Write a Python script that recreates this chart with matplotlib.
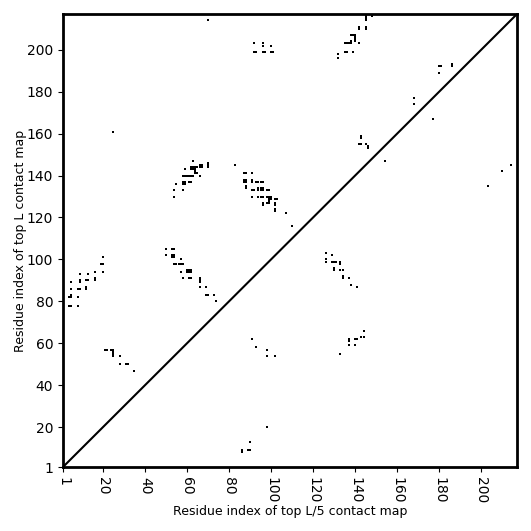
import matplotlib
matplotlib.use("Agg")
import matplotlib.pyplot as plt

L = 217

# contacts above the diagonal (top L map)
upper_x = [4, 5, 8, 4, 5, 8, 5, 5, 8, 9, 12, 12, 5, 9, 9, 12, 13, 9, 13, 16, 16, 16, 20, 19, 20, 20,
           21, 22, 24, 25, 25, 25, 25, 28, 28, 31, 32, 35,
           25, 70, 83,
           63, 59, 62, 63, 64, 65, 62, 63, 64, 66, 67, 66, 67, 70, 70, 70,
           58, 59, 60, 61, 62, 63, 64, 65, 64, 66,
           55, 58, 59, 58, 59, 61, 62, 54, 58, 54,
           50, 53, 54, 50, 53, 54, 53, 54, 54, 55, 56, 57, 58, 57,
           57, 60, 61, 62, 60, 61, 62, 58, 61, 62, 66, 66, 66, 66, 69, 69, 70, 73, 74,
           87, 88, 91, 87, 88, 87, 88, 91, 91, 93, 94, 95, 96,
           88, 88, 91, 92, 94, 95, 96, 94, 95, 96, 98, 99,
           91, 94, 95, 96, 98, 99, 100, 99, 100, 99, 99, 96, 96, 98,
           102, 103, 102, 102, 102, 102, 107, 110,
           92, 92, 93, 96, 96, 96, 97, 100, 100, 101,
           132, 132, 135, 136, 135, 136, 137, 138, 138, 139, 138, 139, 140, 140, 140, 140,
           142, 142, 142, 145, 145, 145, 145, 145, 148,
           143, 143, 142, 143, 145, 146, 146, 168, 168, 180, 181, 180, 186, 186]
upper_y = [78, 78, 78, 82, 82, 82, 83, 86, 86, 86, 86, 87, 89, 89, 90, 90, 90, 93, 93, 90, 91, 94, 94, 98, 98, 101,
           57, 57, 57, 54, 55, 56, 57, 54, 50, 50, 50, 47,
           161, 214, 145,
           147, 143, 143, 143, 143, 144, 144, 144, 144, 144, 144, 145, 145, 144, 145, 146,
           140, 140, 140, 140, 140, 140, 141, 141, 142, 140,
           136, 136, 136, 137, 137, 137, 137, 133, 133, 130,
           105, 105, 105, 102, 102, 102, 101, 101, 98, 98, 98, 98, 98, 100,
           94, 94, 94, 94, 95, 95, 95, 91, 91, 91, 89, 90, 91, 87, 87, 83, 83, 83, 80,
           141, 141, 141, 137, 137, 138, 138, 137, 138, 137, 137, 137, 137,
           134, 135, 133, 133, 133, 133, 133, 134, 134, 134, 133, 133,
           130, 130, 130, 130, 130, 130, 130, 129, 129, 127, 128, 126, 127, 127,
           129, 129, 126, 127, 123, 124, 122, 116,
           203, 199, 199, 202, 203, 199, 199, 202, 199, 199,
           198, 196, 199, 199, 203, 203, 203, 203, 204, 199, 207, 207, 207, 204, 205, 206,
           203, 210, 211, 210, 211, 214, 215, 216, 216,
           158, 159, 155, 155, 155, 154, 153, 177, 174, 192, 192, 189, 192, 193]

# contacts below the diagonal (top L/5 map)
lower_x = [126, 129, 126, 126, 129, 130, 131, 133, 133, 130, 130, 133, 134, 134, 134, 137, 138, 141,
           144, 143, 144, 140, 141, 137, 137, 137, 140, 133,
           91, 93, 98, 98, 102,
           98, 90, 86, 86, 89, 90,
           154, 177, 203, 210, 214]
lower_y = [103, 102, 99, 100, 99, 99, 99, 98, 99, 95, 96, 95, 95, 91, 92, 91, 88, 87,
           66, 63, 63, 62, 62, 62, 61, 59, 59, 55,
           62, 58, 57, 54, 54,
           20, 13, 8, 9, 9, 9,
           147, 167, 135, 142, 145]

fig = plt.figure(figsize=(5.31, 5.31), dpi=100)
ax = fig.add_axes([0.1186, 0.1205, 0.855, 0.853])

ax.scatter(upper_x, upper_y, marker="s", s=2.4, c="black", linewidths=0)
ax.scatter(lower_x, lower_y, marker="s", s=2.4, c="black", linewidths=0)
ax.plot([1, L], [1, L], color="black", linewidth=1.5)

ax.set_xlim(1, L)
ax.set_ylim(1, L)
ticks = [1, 20, 40, 60, 80, 100, 120, 140, 160, 180, 200]
ax.set_xticks(ticks)
ax.set_yticks(ticks)
ax.set_xticklabels([str(t) for t in ticks], rotation=270)
for s in ax.spines.values():
    s.set_linewidth(2)
ax.set_xlabel("Residue index of top L/5 contact map", fontsize=9, labelpad=1)
ax.set_ylabel("Residue index of top L contact map", fontsize=9, labelpad=0)

fig.savefig("out.png", dpi=100)
